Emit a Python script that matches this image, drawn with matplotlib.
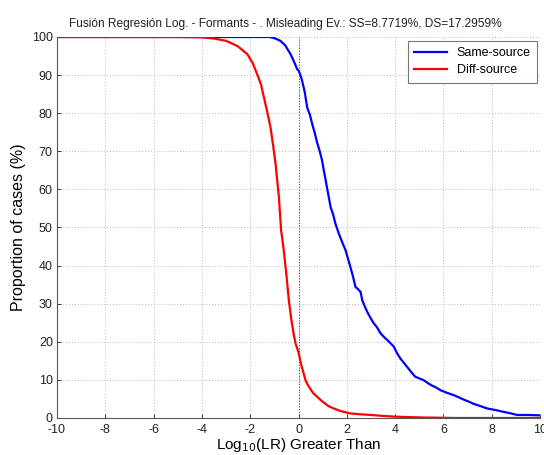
import matplotlib
matplotlib.use("Agg")
import matplotlib.pyplot as plt

plt.rcParams['font.family'] = ['Liberation Sans', 'DejaVu Sans']
plt.rcParams['axes.unicode_minus'] = False

# Tippett curves: proportion of cases with log10(LR) greater than x
ss_x = [-10.0, -1.2, -1.0, -0.75, -0.55, -0.33, -0.15, -0.05, 0.0, 0.08, 0.15, 0.25,
        0.36, 0.47, 0.57, 0.67, 0.77, 0.88, 0.98, 1.05, 1.12, 1.19, 1.26, 1.33,
        1.43, 1.53, 1.67, 1.8, 1.95, 2.05, 2.15, 2.25, 2.36, 2.45, 2.57, 2.64,
        2.75, 2.85, 2.97, 3.1, 3.25, 3.4, 3.55, 3.72, 3.95, 4.08, 4.22, 4.4,
        4.55, 4.7, 4.84, 5.0, 5.19, 5.35, 5.5, 5.7, 5.88, 6.15, 6.43, 6.65,
        6.85, 7.05, 7.26, 7.5, 7.81, 8.15, 8.5, 8.8, 9.05, 9.5, 10.0]
ss_y = [100.0, 100.0, 99.7, 99.0, 97.8, 95.5, 93.0, 91.5, 91.23, 90.0, 88.5, 85.8,
        81.5, 79.6, 77.1, 74.9, 72.3, 70.0, 67.5, 64.9, 62.6, 60.1, 57.8, 55.3,
        53.5, 51.0, 48.4, 46.3, 44.0, 41.8, 39.6, 37.3, 34.4, 33.9, 33.1, 30.9,
        29.2, 27.8, 26.4, 25.0, 23.8, 22.2, 21.2, 20.2, 18.7, 17.0, 15.6, 14.2,
        13.0, 11.8, 10.8, 10.4, 9.9, 9.2, 8.6, 8.0, 7.3, 6.6, 6.0, 5.4,
        4.8, 4.3, 3.7, 3.2, 2.5, 2.1, 1.6, 1.2, 0.8, 0.8, 0.7]

ds_x = [-10.0, -4.9, -4.0, -3.5, -3.0, -2.82, -2.5, -2.12, -1.9, -1.71, -1.55,
        -1.43, -1.3, -1.16, -1.05, -0.95, -0.88, -0.81, -0.72, -0.66, -0.61,
        -0.5, -0.40, -0.3, -0.2, -0.12, 0.0, 0.1, 0.2, 0.29, 0.4, 0.6, 0.77,
        0.9, 1.1, 1.25, 1.46, 1.75, 2.15, 2.5, 2.98, 3.5, 4.0, 5.0, 6.5, 10.0]
ds_y = [100.0, 100.0, 99.9, 99.6, 99.0, 98.5, 97.5, 95.5, 93.2, 90.2, 87.5,
        84.1, 80.5, 76.3, 71.5, 66.7, 62.3, 57.9, 49.2, 46.5, 44.0,
        37.5, 30.9, 26.0, 22.0, 19.5, 17.3, 14.3, 12.0, 9.9, 8.5, 6.6, 5.6,
        4.8, 3.8, 3.1, 2.5, 1.8, 1.2, 1.0, 0.8, 0.55, 0.35, 0.15, 0.0, 0.0]

title = "Fusión Regresión Log. - Formants - . Misleading Ev.: SS=8.7719%, DS=17.2959%"
x_ticks = list(range(-10, 11, 2))
y_ticks = list(range(0, 101, 10))

fig = plt.figure(figsize=(5.44, 4.55), dpi=100)
ax = fig.add_axes([57 / 544, 1 - 418 / 455, 483 / 544, 381 / 455])

ax.plot(ss_x, ss_y, color='#0000ff', lw=1.6, label='Same-source', zorder=3)
ax.plot(ds_x, ds_y, color='#ff0000', lw=1.6, label='Diff-source', zorder=4)
ax.plot([0, 0], [0, 100], color='#555555', lw=0.8, ls=(0, (1, 1.5)), zorder=2)

ax.set_xlim(-10, 10)
ax.set_ylim(0, 100)
ax.set_xticks(x_ticks)
ax.set_yticks(y_ticks)
ax.tick_params(direction='in', length=3, labelsize=9, colors='#222222', width=0.6)
ax.tick_params(axis='x', pad=4)
ax.tick_params(axis='y', pad=3)
ax.grid(True, color='#bbbbbb', ls=(0, (1, 2)), lw=0.7)
for side in ('top', 'right'):
    ax.spines[side].set_visible(False)
for side in ('left', 'bottom'):
    ax.spines[side].set_color('#555555')
    ax.spines[side].set_linewidth(0.8)

ax.set_title(title, fontsize=8.6, pad=7, color='#222222', x=(285 - 57) / 483)
ax.set_ylabel('Proportion of cases (%)', fontsize=11.5, labelpad=4)
ax.set_xlabel(r'Log$_{10}$(LR) Greater Than', fontsize=11, labelpad=0)

leg = ax.legend(loc='upper right', fontsize=9, frameon=True, fancybox=False,
                edgecolor='#555555', handlelength=2.6, borderpad=0.5,
                labelspacing=0.4, borderaxespad=0,
                bbox_to_anchor=(0.9938, 0.9895))
leg.get_frame().set_linewidth(0.8)

fig.savefig('out.png', dpi=100)
